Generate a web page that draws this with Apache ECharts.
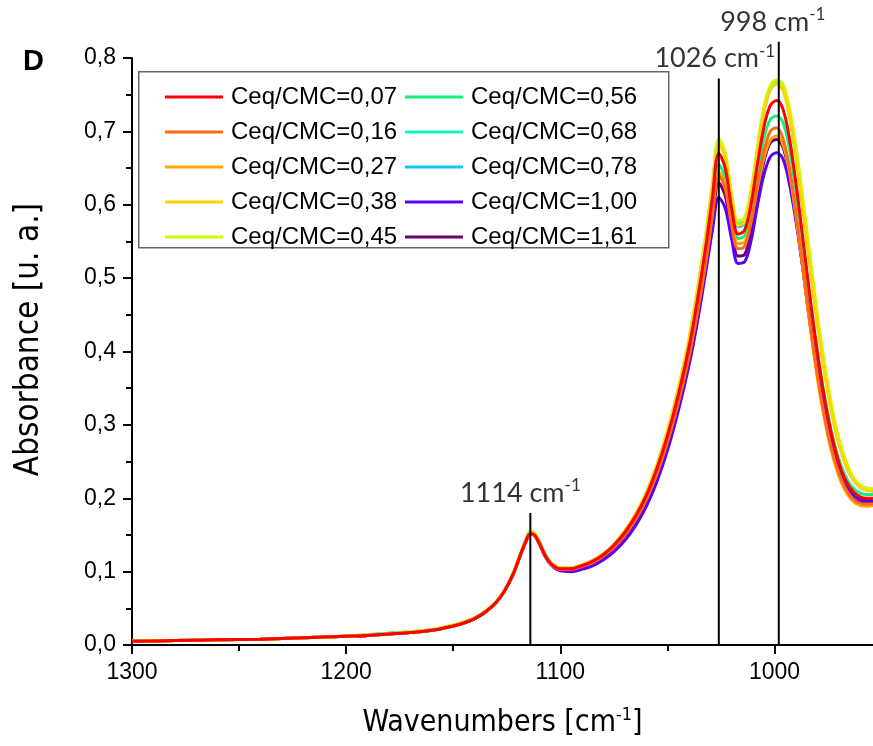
<!DOCTYPE html>
<html>
<head>
<meta charset="utf-8">
<script src="https://cdn.jsdelivr.net/npm/echarts@6/dist/echarts.min.js"></script>
<style>html,body{margin:0;padding:0;background:#fff}#c{width:873px;height:746px}</style>
</head>
<body>
<div id="c"></div>
<script>
// Wavenumbers (cm-1)
var wavenumbers = [1300,1280,1260,1240,1220,1200,1190,1180,1170,1160,1150,1145,1140,1135,1130,
  1126,1122,1119,1116,1114,1112,1110,1107,1104,1100,
  1095,1090,1085,1080,1075,1070,1065,1060,1055,1050,1045,1040,
  1036,1032,1029,1026,1023,1020,1017,1014,1011,1008,1005,1002,
  999,996,993,990,987,984,981,978,975,972,969,966,963,960,957,954,950];

var s007 = [0.005,0.006,0.007,0.008,0.010,0.012,0.013,0.015,0.017,0.020,0.026,0.030,0.036,0.045,0.058,
  0.074,0.097,0.120,0.142,0.152,0.150,0.140,0.122,0.110,0.104,
  0.104,0.108,0.114,0.123,0.136,0.153,0.175,0.203,0.240,0.285,0.340,0.405,
  0.470,0.545,0.610,0.670,0.650,0.595,0.560,0.565,0.600,0.655,0.705,0.735,
  0.742,0.730,0.690,0.630,0.560,0.488,0.420,0.360,0.310,0.270,0.240,0.220,0.208,0.202,0.200,0.200,0.202];
var s016 = [0.005,0.006,0.007,0.008,0.010,0.012,0.013,0.015,0.017,0.020,0.026,0.030,0.036,0.045,0.058,
  0.074,0.097,0.120,0.142,0.151,0.149,0.139,0.121,0.109,0.103,
  0.103,0.107,0.112,0.121,0.133,0.149,0.170,0.197,0.232,0.276,0.329,0.391,
  0.452,0.522,0.584,0.640,0.622,0.572,0.540,0.543,0.575,0.625,0.672,0.700,
  0.705,0.690,0.650,0.590,0.522,0.452,0.388,0.333,0.288,0.253,0.227,0.209,0.198,0.193,0.192,0.192,0.194];
var s027 = [0.005,0.006,0.007,0.008,0.010,0.012,0.013,0.015,0.017,0.020,0.026,0.030,0.036,0.045,0.058,
  0.074,0.097,0.120,0.142,0.152,0.150,0.140,0.122,0.110,0.104,
  0.104,0.108,0.113,0.122,0.134,0.150,0.171,0.198,0.234,0.278,0.332,0.395,
  0.456,0.527,0.589,0.645,0.627,0.578,0.547,0.549,0.578,0.622,0.663,0.688,
  0.694,0.682,0.644,0.585,0.518,0.448,0.384,0.329,0.284,0.249,0.223,0.206,0.195,0.190,0.189,0.190,0.192];
var s038 = [0.005,0.006,0.007,0.008,0.010,0.012,0.014,0.015,0.018,0.021,0.027,0.031,0.037,0.046,0.059,
  0.075,0.098,0.121,0.144,0.154,0.152,0.142,0.123,0.111,0.105,
  0.105,0.109,0.115,0.124,0.137,0.155,0.177,0.206,0.244,0.290,0.346,0.413,
  0.480,0.556,0.622,0.683,0.664,0.609,0.572,0.576,0.613,0.672,0.726,0.757,
  0.765,0.756,0.720,0.665,0.598,0.528,0.459,0.396,0.343,0.298,0.264,0.240,0.224,0.215,0.211,0.210,0.212];
var s045 = [0.005,0.006,0.007,0.008,0.010,0.012,0.014,0.015,0.018,0.021,0.027,0.031,0.037,0.046,0.059,
  0.075,0.098,0.121,0.144,0.155,0.153,0.142,0.123,0.111,0.105,
  0.105,0.109,0.115,0.124,0.137,0.155,0.178,0.207,0.245,0.292,0.349,0.417,
  0.485,0.562,0.628,0.690,0.671,0.615,0.578,0.582,0.619,0.678,0.732,0.762,
  0.770,0.764,0.732,0.680,0.615,0.545,0.475,0.410,0.355,0.308,0.272,0.246,0.228,0.218,0.214,0.213,0.215];
var s056 = [0.005,0.006,0.007,0.008,0.010,0.012,0.013,0.015,0.017,0.020,0.026,0.030,0.036,0.045,0.058,
  0.074,0.097,0.120,0.142,0.153,0.151,0.141,0.122,0.110,0.104,
  0.104,0.108,0.114,0.123,0.136,0.153,0.174,0.202,0.238,0.282,0.336,0.400,
  0.462,0.534,0.598,0.655,0.637,0.586,0.554,0.558,0.592,0.643,0.690,0.716,
  0.721,0.712,0.676,0.620,0.555,0.486,0.420,0.363,0.314,0.274,0.245,0.225,0.213,0.207,0.205,0.205,0.207];
var s068 = [0.005,0.006,0.007,0.008,0.010,0.012,0.014,0.016,0.018,0.021,0.027,0.031,0.037,0.046,0.059,
  0.075,0.098,0.121,0.144,0.155,0.153,0.142,0.123,0.111,0.105,
  0.105,0.109,0.115,0.124,0.137,0.155,0.177,0.206,0.244,0.291,0.348,0.415,
  0.483,0.560,0.626,0.688,0.668,0.612,0.574,0.578,0.616,0.675,0.729,0.760,
  0.768,0.760,0.726,0.672,0.606,0.536,0.467,0.403,0.349,0.303,0.268,0.243,0.226,0.217,0.213,0.212,0.214];
var s078 = [0.005,0.006,0.007,0.008,0.010,0.012,0.014,0.016,0.018,0.021,0.027,0.031,0.037,0.046,0.059,
  0.075,0.098,0.121,0.144,0.154,0.152,0.142,0.123,0.111,0.105,
  0.105,0.109,0.115,0.124,0.137,0.155,0.177,0.205,0.243,0.290,0.346,0.413,
  0.481,0.557,0.623,0.685,0.665,0.609,0.570,0.574,0.612,0.672,0.726,0.757,
  0.765,0.757,0.722,0.668,0.602,0.532,0.463,0.400,0.346,0.301,0.266,0.241,0.224,0.215,0.211,0.210,0.212];
var s100 = [0.005,0.006,0.007,0.008,0.010,0.012,0.013,0.015,0.017,0.020,0.026,0.030,0.036,0.045,0.058,
  0.074,0.096,0.119,0.141,0.151,0.149,0.139,0.120,0.108,0.101,
  0.100,0.103,0.108,0.116,0.127,0.142,0.162,0.188,0.222,0.265,0.318,0.380,
  0.440,0.510,0.565,0.610,0.595,0.553,0.520,0.522,0.550,0.598,0.640,0.665,
  0.671,0.662,0.628,0.578,0.518,0.455,0.395,0.342,0.297,0.260,0.233,0.215,0.204,0.199,0.197,0.197,0.199];
var s161 = [0.005,0.006,0.007,0.008,0.010,0.012,0.013,0.015,0.017,0.020,0.026,0.030,0.036,0.045,0.058,
  0.074,0.097,0.120,0.142,0.152,0.150,0.140,0.121,0.109,0.103,
  0.102,0.106,0.111,0.120,0.132,0.148,0.168,0.195,0.230,0.273,0.326,0.388,
  0.449,0.518,0.578,0.630,0.612,0.565,0.530,0.532,0.563,0.612,0.658,0.684,
  0.689,0.678,0.641,0.584,0.519,0.451,0.388,0.334,0.289,0.253,0.227,0.209,0.199,0.195,0.194,0.195,0.197];

var seriesNames = ['Ceq/CMC=0,07','Ceq/CMC=0,16','Ceq/CMC=0,27','Ceq/CMC=0,38','Ceq/CMC=0,45',
  'Ceq/CMC=0,56','Ceq/CMC=0,68','Ceq/CMC=0,78','Ceq/CMC=1,00','Ceq/CMC=1,61'];
var seriesValues = [s007,s016,s027,s038,s045,s056,s068,s078,s100,s161];
var seriesColors = ['#ff0000','#ff6a14','#ffa600','#ffd400','#c8ff00','#14f07a','#14f5c4','#14c8f5','#5a00ff','#6e006e'];

// Peak annotation lines
var peakPositions = [1114, 1026, 998];
var peakLineTops = [0.180, 0.772, 0.822];
var peakLabels = ['1114', '1026', '998'];

// Axis ticks
var xMajorTicks = [1300, 1200, 1100, 1000];
var xMinorTicks = [1250, 1150, 1050];
var xMin = 954, xMax = 1300;

var chart = echarts.init(document.getElementById('c'), null, {renderer: 'canvas'});

var series = [];
// draw red last (on top)
for (var k = seriesNames.length - 1; k >= 0; k--) {
  var d = [];
  for (var i = 0; i < wavenumbers.length; i++) d.push([wavenumbers[i], seriesValues[k][i]]);
  series.push({
    name: seriesNames[k], type: 'line', data: d, smooth: 0.35, showSymbol: false, symbol: 'none',
    lineStyle: {width: 3, color: seriesColors[k]}, itemStyle: {color: seriesColors[k]},
    z: 2, silent: true
  });
}
for (var p = 0; p < peakPositions.length; p++) {
  series.push({
    name: 'peak' + p, type: 'line', clip: false, symbol: 'none', showSymbol: false, z: 5, silent: true,
    lineStyle: {width: 2, color: '#000'},
    data: [[peakPositions[p], 0], [peakPositions[p], peakLineTops[p]]]
  });
}
var labelOffsets = [[-10, 0], [-4, 0], [-6, 0]];
var annData = [];
for (var q = 0; q < peakPositions.length; q++) {
  annData.push({
    value: [peakPositions[q], peakLineTops[q]],
    label: {show: true, position: 'top', distance: 4, offset: labelOffsets[q],
      formatter: '{a|' + peakLabels[q] + ' cm}{s|-1}',
      rich: {
        a: {fontFamily: 'Lato', fontSize: 27, color: '#000'},
        s: {fontFamily: 'Lato', fontSize: 17, color: '#000', padding: [0, 0, 14, 0]}
      }}
  });
}
series.push({name: 'ann', type: 'scatter', clip: false, symbolSize: 1, itemStyle: {color: 'rgba(0,0,0,0)'},
  z: 6, silent: true, data: annData});

var legendCommon = {
  orient: 'vertical', icon: 'rect', itemWidth: 58, itemHeight: 3, itemGap: 11,
  textStyle: {fontFamily: 'Liberation Sans', fontSize: 24, color: '#000', lineHeight: 22.5, padding: [0,0,0,3]},
  selectedMode: false
};

var condensed = 'Liberation Sans Narrow, DejaVu Sans Condensed, sans-serif';

chart.setOption({
  animation: false,
  backgroundColor: '#fff',
  grid: {left: 132, top: 58, height: 587, right: 0, containLabel: false},
  xAxis: [{
    type: 'value', inverse: true, min: xMin, max: xMax,
    name: '{a|Wavenumbers [cm}{s|-1}{a|]}',
    nameLocation: 'middle', nameGap: 61,
    nameTextStyle: {rich: {
      a: {fontFamily: condensed, fontSize: 30, color: '#000'},
      s: {fontFamily: condensed, fontSize: 18, color: '#000', padding: [0,0,16,0]}
    }},
    axisLine: {lineStyle: {color: '#000', width: 2}},
    axisTick: {show: true, inside: false, length: 9, customValues: xMajorTicks, lineStyle: {color: '#000', width: 2}},
    splitLine: {show: false},
    axisLabel: {fontFamily: 'Liberation Sans', fontSize: 23, color: '#000', margin: 16, customValues: xMajorTicks,
      formatter: function (v) { return String(v); }}
  }, {
    type: 'value', inverse: true, min: xMin, max: xMax, position: 'bottom',
    axisLine: {show: false},
    axisTick: {show: true, inside: false, length: 6, customValues: xMinorTicks, lineStyle: {color: '#000', width: 2}},
    axisLabel: {show: false}, splitLine: {show: false}
  }],
  yAxis: {
    type: 'value', min: 0, max: 0.8, interval: 0.1,
    name: 'Absorbance [u. a.]', nameLocation: 'middle', nameGap: 86, nameRotate: 90,
    nameTextStyle: {fontFamily: condensed, fontSize: 33, color: '#000', padding: [0, 0, 0, 24]},
    axisLine: {show: true, lineStyle: {color: '#000', width: 2}},
    axisTick: {show: true, inside: false, length: 9, lineStyle: {color: '#000', width: 2}},
    minorTick: {show: true, splitNumber: 2, length: 6, lineStyle: {color: '#000', width: 2}},
    splitLine: {show: false}, minorSplitLine: {show: false},
    axisLabel: {fontFamily: 'Liberation Sans', fontSize: 23, color: '#000', margin: 16,
      formatter: function (v) { return v.toFixed(1).replace('.', ','); }}
  },
  legend: [
    Object.assign({}, legendCommon, {left: 160, top: 80, data: seriesNames.slice(0, 5)}),
    Object.assign({}, legendCommon, {left: 400, top: 80, data: seriesNames.slice(5, 10)})
  ],
  graphic: [
    {type: 'rect', left: 138, top: 71, z: 0, shape: {width: 530, height: 176},
     style: {fill: '#fff', stroke: '#666', lineWidth: 1.5}},
    {type: 'text', left: 23, top: 47, style: {text: 'D', fontFamily: 'Liberation Sans', fontWeight: 'bold', fontSize: 29, fill: '#000'}}
  ],
  series: series
});
</script>
</body>
</html>
